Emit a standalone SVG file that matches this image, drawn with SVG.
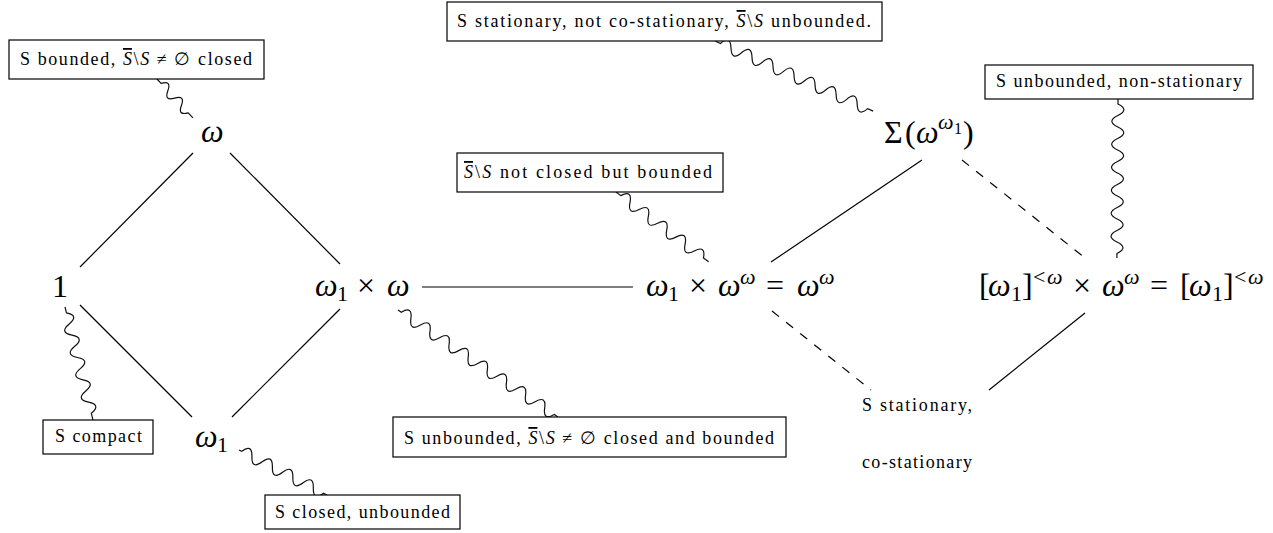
<svg xmlns="http://www.w3.org/2000/svg" width="1273" height="533" viewBox="0 0 1273 533">
<style>
.ln{stroke:#000;stroke-width:1.2;fill:none}
.dash{stroke-dasharray:9 9}
.snake{stroke:#111;stroke-width:1.2;fill:none}
.box{fill:#fff;stroke:#000;stroke-width:1.2}
.lbl{font-family:"Liberation Serif",serif;font-size:18px;fill:#000}
.m{font-family:"Liberation Serif",serif;font-size:32px;fill:#000}
.s{font-size:22px}
.ss{font-size:16px}
.it{font-style:italic}
.ov{text-decoration:overline}
</style>
<rect width="1273" height="533" fill="#fff"/>
<g id="connectors">
<line class="ln" x1="193" y1="153" x2="80" y2="267"/>
<line class="ln" x1="230" y1="153" x2="340" y2="264"/>
<line class="ln" x1="80" y1="305" x2="192" y2="417"/>
<line class="ln" x1="340" y1="309" x2="232" y2="417"/>
<line class="ln" x1="422" y1="287" x2="633" y2="287"/>
<line class="ln" x1="771" y1="262" x2="922" y2="160"/>
<line class="ln dash" x1="962" y1="160" x2="1085" y2="258"/>
<line class="ln dash" x1="772" y1="311" x2="871" y2="390"/>
<line class="ln" x1="1085" y1="313" x2="989" y2="390"/>
<path class="snake" transform="translate(157,79) rotate(47.3)" d="M0,0 h6 c3.33,-6.67 6.67,-6.67 10,0 s6.67,6.67 10,0 s6.67,-6.67 10,0 s6.67,6.67 10,0 h7"/>
<path class="snake" transform="translate(715,41) rotate(23.9)" d="M0,0 h6 c3.83,-8 7.67,-8 11.5,0 s7.67,8 11.5,0 s7.67,-8 11.5,0 s7.67,8 11.5,0 s7.67,-8 11.5,0 s7.67,8 11.5,0 s7.67,-8 11.5,0 s7.67,8 11.5,0 s7.67,-8 11.5,0 s7.67,8 11.5,0 s7.67,-8 11.5,0 s7.67,8 11.5,0 s7.67,-8 11.5,0 s7.67,8 11.5,0 h6"/>
<path class="snake" transform="translate(1118,99) rotate(90.4)" d="M0,0 h5 c3.83,-8 7.67,-8 11.5,0 s7.67,8 11.5,0 s7.67,-8 11.5,0 s7.67,8 11.5,0 s7.67,-8 11.5,0 s7.67,8 11.5,0 s7.67,-8 11.5,0 s7.67,8 11.5,0 s7.67,-8 11.5,0 s7.67,8 11.5,0 s7.67,-8 11.5,0 s7.67,8 11.5,0 s7.67,-8 11.5,0 h4.5"/>
<path class="snake" transform="translate(616,192) rotate(37)" d="M0,0 h6 c3.83,-8 7.67,-8 11.5,0 s7.67,8 11.5,0 s7.67,-8 11.5,0 s7.67,8 11.5,0 s7.67,-8 11.5,0 s7.67,8 11.5,0 s7.67,-8 11.5,0 s7.67,8 11.5,0 s7.67,-8 11.5,0 h6.5"/>
<path class="snake" transform="translate(65,307) rotate(76.1)" d="M0,0 h6 c3.83,-8 7.67,-8 11.5,0 s7.67,8 11.5,0 s7.67,-8 11.5,0 s7.67,8 11.5,0 s7.67,-8 11.5,0 s7.67,8 11.5,0 s7.67,-8 11.5,0 s7.67,8 11.5,0 s7.67,-8 11.5,0 h7"/>
<path class="snake" transform="translate(398,310) rotate(33.8)" d="M0,0 h4 c3.83,-8 7.67,-8 11.5,0 s7.67,8 11.5,0 s7.67,-8 11.5,0 s7.67,8 11.5,0 s7.67,-8 11.5,0 s7.67,8 11.5,0 s7.67,-8 11.5,0 s7.67,8 11.5,0 s7.67,-8 11.5,0 s7.67,8 11.5,0 s7.67,-8 11.5,0 s7.67,8 11.5,0 s7.67,-8 11.5,0 s7.67,8 11.5,0 s7.67,-8 11.5,0 s7.67,8 11.5,0 h4.5"/>
<path class="snake" transform="translate(239,450) rotate(27.1)" d="M0,0 h3 c3.83,-8 7.67,-8 11.5,0 s7.67,8 11.5,0 s7.67,-8 11.5,0 s7.67,8 11.5,0 s7.67,-8 11.5,0 s7.67,8 11.5,0 s7.67,-8 11.5,0 s7.67,8 11.5,0 h3.8"/>
</g>
<g id="n-omega"><text class="m"><tspan class="it" x="201" y="142">ω</tspan></text></g>
<g id="n-one"><text class="m" x="52" y="297">1</text></g>
<g id="n-w1xw"><text class="m"><tspan class="it" x="315" y="296">ω</tspan><tspan class="s" x="337" y="301">1</tspan><tspan x="357" y="296">×</tspan><tspan class="it" x="387" y="296">ω</tspan></text></g>
<g id="n-w1xww"><text class="m"><tspan class="it" x="646" y="296">ω</tspan><tspan class="s" x="668" y="301">1</tspan><tspan x="689" y="296">×</tspan><tspan class="it" x="718" y="296">ω</tspan><tspan class="s it" x="740" y="284">ω</tspan><tspan x="766" y="296">=</tspan><tspan class="it" x="797" y="296">ω</tspan><tspan class="s it" x="819" y="284">ω</tspan></text></g>
<g id="n-sigma"><text class="m"><tspan x="884" y="143">Σ</tspan><tspan x="905" y="143">(</tspan><tspan class="it" x="916" y="143">ω</tspan><tspan class="s it" x="938" y="129">ω</tspan><tspan class="ss" x="954" y="134">1</tspan><tspan x="963" y="143">)</tspan></text></g>
<g id="n-fin"><text class="m"><tspan x="979" y="296">[</tspan><tspan class="it" x="988" y="296">ω</tspan><tspan class="s" x="1011" y="301">1</tspan><tspan x="1022" y="296">]</tspan><tspan class="s" x="1033" y="284">&lt;</tspan><tspan class="s it" x="1047" y="284">ω</tspan><tspan x="1073" y="296">×</tspan><tspan class="it" x="1102" y="296">ω</tspan><tspan class="s it" x="1124" y="284">ω</tspan><tspan x="1150" y="296">=</tspan><tspan x="1180" y="296">[</tspan><tspan class="it" x="1189" y="296">ω</tspan><tspan class="s" x="1212" y="301">1</tspan><tspan x="1223" y="296">]</tspan><tspan class="s" x="1234" y="284">&lt;</tspan><tspan class="s it" x="1248" y="284">ω</tspan></text></g>
<g id="n-w1"><text class="m"><tspan class="it" x="195" y="447">ω</tspan><tspan class="s" x="217" y="452">1</tspan></text></g>
<g id="n-statco"><text class="lbl" x="862" y="411" textLength="110">S stationary,</text><text class="lbl" x="862" y="468" textLength="110">co-stationary</text></g>
<g id="b1"><rect class="box" x="9" y="40" width="255" height="39"/><text class="lbl" x="20" y="65" textLength="232">S bounded, <tspan class="it ov">S</tspan>\<tspan class="it">S</tspan> ≠ ∅ closed</text></g>
<g id="b2"><rect class="box" x="447" y="2" width="435" height="39"/><text class="lbl" x="457" y="27" textLength="414">S stationary, not co-stationary, <tspan class="it ov">S</tspan>\<tspan class="it">S</tspan> unbounded.</text></g>
<g id="b3"><rect class="box" x="985" y="65" width="268" height="34"/><text class="lbl" x="996" y="87" textLength="246">S unbounded, non-stationary</text></g>
<g id="b4"><rect class="box" x="457" y="153" width="266" height="39"/><text class="lbl" x="464" y="178" textLength="248"><tspan class="it ov">S</tspan>\<tspan class="it">S</tspan> not closed but bounded</text></g>
<g id="b5"><rect class="box" x="43" y="420" width="110" height="34"/><text class="lbl" x="55" y="442" textLength="87">S compact</text></g>
<g id="b6"><rect class="box" x="393" y="417" width="393" height="40"/><text class="lbl" x="404" y="444" textLength="370">S unbounded, <tspan class="it ov">S</tspan>\<tspan class="it">S</tspan> ≠ ∅ closed and bounded</text></g>
<g id="b7"><rect class="box" x="265" y="495" width="195" height="34"/><text class="lbl" x="275" y="518" textLength="175">S closed, unbounded</text></g>
</svg>
